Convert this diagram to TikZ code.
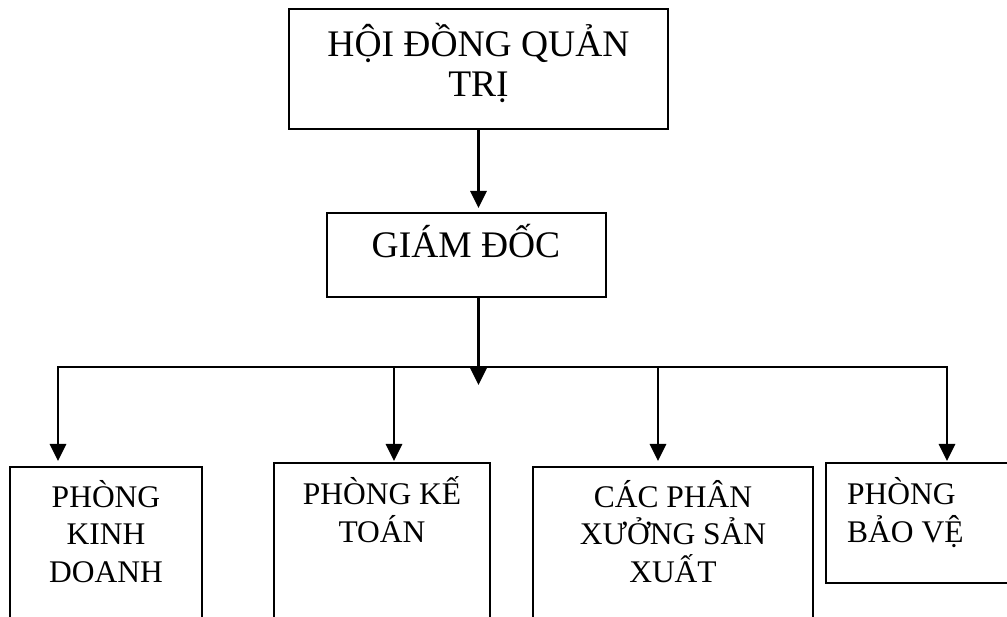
\documentclass[tikz,border=0pt]{standalone}
\usepackage{fontspec}
\setmainfont{Liberation Serif}
\usetikzlibrary{arrows.meta}
\tikzset{
  box/.style={draw, rectangle, line width=2pt, inner sep=0pt},
  big/.style={font=\fontsize{37.5}{40}\selectfont, align=center, inner sep=0pt},
  small/.style={font=\fontsize{31.5}{37.5}\selectfont, align=center, inner sep=0pt},
  conn/.style={line width=2.9pt, line join=miter},
  arr/.style={conn, -{Triangle[width=16pt,length=17pt]}}
}
\begin{document}
\begin{tikzpicture}[x=1pt,y=-1pt]
\useasboundingbox (0,0) rectangle (1007,617);
\clip (0,0) rectangle (1007,617);

% boxes
\node[box, minimum width=379pt, minimum height=120pt] (hdqt) at (478.5,69) {};
\node[box, minimum width=279pt, minimum height=84pt] (gd) at (466.5,255) {};
\node[box, minimum width=192pt, minimum height=233pt] (pkd) at (106,583.5) {};
\node[box, minimum width=216pt, minimum height=237pt] (pkt) at (382,581.5) {};
\node[box, minimum width=280pt, minimum height=233pt] (cpx) at (673,583.5) {};
\node[box, minimum width=234pt, minimum height=120pt] (pbv) at (943,523) {};

% labels (base anchor sits on the last line's baseline)
\node[big, anchor=base] (t-hdqt) at (478.5,97) {HỘI ĐỒNG QUẢN\\TRỊ};
\node[big, anchor=base] (t-gd) at (466,258) {GIÁM ĐỐC};
\node[small, anchor=base] (t-pkd) at (106,582) {PHÒNG\\KINH\\DOANH};
\node[small, anchor=base] (t-pkt) at (382,542) {PHÒNG KẾ\\TOÁN};
\node[small, anchor=base] (t-cpx) at (673,582) {CÁC PHÂN\\XƯỞNG SẢN\\XUẤT};
\node[small, anchor=base west, align=left] (t-pbv) at (847,542) {PHÒNG\\BẢO VỆ};

% connector points
\coordinate (hub) at (478.5,385);
\coordinate (d1) at (58,367);
\coordinate (d2) at (394,367);
\coordinate (d3) at (658,367);
\coordinate (d4) at (947,367);

% connectors
\draw[arr, shorten >=4pt] (hdqt.south) -- (hdqt.south |- gd.north);
\draw[arr] (gd.south -| hdqt.south) -- (hub);
\draw[arr, shorten >=5pt] (d2) -- (d1) -- (d1 |- pkd.north);
\draw[arr, shorten >=1pt] (d3) -- (d4) -- (d4 |- pbv.north);
\draw[arr, shorten >=1pt] (d2) -- (d2 |- pkt.north);
\draw[arr, shorten >=5pt] (d3) -- (d3 |- cpx.north);
\draw[conn] (d2) -- (d3);
\end{tikzpicture}
\end{document}
